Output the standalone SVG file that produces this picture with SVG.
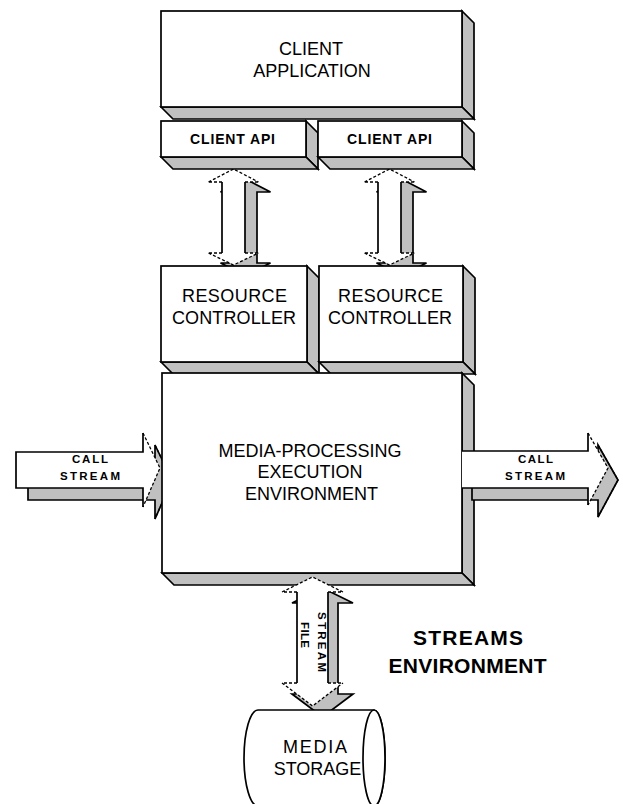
<svg xmlns="http://www.w3.org/2000/svg" width="623" height="804" viewBox="0 0 623 804">
<style>
.f{fill:#fff;stroke:#000;stroke-width:1.7}
.s{fill:#c0c0c0;stroke:#000;stroke-width:1.7;stroke-linejoin:miter}
.w{fill:#fff;stroke:none}
.ln{fill:none;stroke:#000;stroke-width:1.7}
.d{fill:none;stroke:#000;stroke-width:1.3;stroke-dasharray:3 2}
.t{font-family:"Liberation Sans",Arial,sans-serif;fill:#000;text-anchor:middle}
.m{font-size:18px}
.b{font-size:14px;font-weight:bold}
.sm{font-size:11.5px;font-weight:bold}
.big{font-size:21px;font-weight:bold}
</style>
<rect width="623" height="804" fill="#fff"/>
<g id="connectors">
  <g id="arrow-api-rc-left">
    <polygon class="s" points="245.5,179 270.5,192 257,192 257,263 270.5,263 245.5,275 220.5,263 234,263 234,192 220.5,192"/>
    <polygon class="w" points="233.5,169 258.5,182 245,182 245,253 258.5,253 233.5,265 208.5,253 222,253 222,182 208.5,182"/>
    <path class="ln" d="M222,182 V253 M245,182 V253"/>
    <path class="d" d="M208.5,182 L233.5,169 L258.5,182 M222,182 H208.5 M245,182 H258.5 M208.5,253 L233.5,265 L258.5,253 M222,253 H208.5 M245,253 H258.5"/>
  </g>
  <g id="arrow-api-rc-right">
    <polygon class="s" points="401.5,179 426.5,192 413,192 413,263 426.5,263 401.5,275 376.5,263 390,263 390,192 376.5,192"/>
    <polygon class="w" points="389.5,169 414.5,182 401,182 401,253 414.5,253 389.5,265 364.5,253 378,253 378,182 364.5,182"/>
    <path class="ln" d="M378,182 V253 M401,182 V253"/>
    <path class="d" d="M364.5,182 L389.5,169 L414.5,182 M378,182 H364.5 M401,182 H414.5 M364.5,253 L389.5,265 L414.5,253 M378,253 H364.5 M401,253 H414.5"/>
  </g>
  <g id="arrow-call-in">
    <polygon class="s" points="28,464 155,464 155,445 172,480 155,519 155,500 28,500"/>
    <path class="d" d="M155,445 L172,480 L155,519"/>
    <polygon class="w" points="16,452 143,452 143,433 160,468 143,507 143,488 16,488"/>
    <path class="ln" d="M143,433 V452 H16 V488 H143 V507"/>
    <path class="d" d="M143,433 L160,468 L143,507"/>
  </g>
</g>
<g id="client-application">
  <polygon class="s" points="462,11 474,23 474,119 462,107"/>
  <polygon class="s" points="161,107 173,119 474,119 462,107"/>
  <rect class="f" x="161" y="11" width="301" height="96"/>
  <text class="t m" x="311" y="55">CLIENT</text>
  <text class="t m" x="312" y="77">APPLICATION</text>
</g>
<g id="client-api-left">
  <polygon class="s" points="306,121 318,133 318,169 306,157"/>
  <polygon class="s" points="161,157 173,169 318,169 306,157"/>
  <rect class="f" x="161" y="121" width="145" height="36"/>
  <text class="t b" x="232.5" y="144" textLength="85" lengthAdjust="spacing">CLIENT API</text>
</g>
<g id="client-api-right">
  <polygon class="s" points="462,121 474,133 474,169 462,157"/>
  <polygon class="s" points="318,157 330,169 474,169 462,157"/>
  <rect class="f" x="318" y="121" width="144" height="36"/>
  <text class="t b" x="389.5" y="144" textLength="85" lengthAdjust="spacing">CLIENT API</text>
</g>
<g id="resource-controller-left">
  <polygon class="s" points="307,266 319,278 319,374 307,362"/>
  <polygon class="s" points="161,362 173,374 319,374 307,362"/>
  <rect class="f" x="161" y="266" width="146" height="96"/>
  <text class="t m" x="234.5" y="302" textLength="105" lengthAdjust="spacing">RESOURCE</text>
  <text class="t m" x="234" y="324" textLength="124" lengthAdjust="spacing">CONTROLLER</text>
</g>
<g id="resource-controller-right">
  <polygon class="s" points="463,266 475,278 475,374 463,362"/>
  <polygon class="s" points="319,362 331,374 475,374 463,362"/>
  <rect class="f" x="319" y="266" width="144" height="96"/>
  <text class="t m" x="390.5" y="302" textLength="105" lengthAdjust="spacing">RESOURCE</text>
  <text class="t m" x="390" y="324" textLength="124" lengthAdjust="spacing">CONTROLLER</text>
</g>
<g id="media-processing">
  <polygon class="s" points="462,373 474,385 474,585 462,573"/>
  <polygon class="s" points="162,573 174,585 474,585 462,573"/>
  <rect class="f" x="162" y="373" width="300" height="200"/>
  <text class="t m" x="310" y="457">MEDIA-PROCESSING</text>
  <text class="t m" x="310" y="478">EXECUTION</text>
  <text class="t m" x="311.5" y="500">ENVIRONMENT</text>
</g>
<g id="connectors-2">
  <g id="arrow-call-out">
    <polygon class="s" points="472,463 598,463 598,445 618,480 598,517 598,500 472,500"/>
    <path class="d" d="M598,445 L618,480 L598,517"/>
    <polygon class="w" points="462,451 588,451 588,433 608,468 588,505 588,488 462,488"/>
    <path class="ln" d="M588,433 V451 H462 M462,488 H588 V505"/>
    <path class="d" d="M588,433 L608,468 L588,505"/>
  </g>
  <g id="arrow-file-stream">
    <polygon class="s" points="322.5,588 353,603 338,603 338,694 353,694 322.5,717 292,694 307,694 307,603 292,603"/>
    <polygon class="w" points="312.5,577 343,592 328,592 328,683 343,683 312.5,706 282,683 297,683 297,592 282,592"/>
    <path class="ln" d="M297,592 V683 M328,592 V683"/>
    <path class="d" d="M282,592 L312.5,577 L343,592 M297,592 H282 M328,592 H343 M282,683 L312.5,706 L343,683 M297,683 H282 M328,683 H343"/>
  </g>
</g>
<g id="media-storage">
  <path class="f" d="M258,710 L374,710 A11,48 0 0 1 374,806 L258,806 A14,48 0 0 1 258,710 Z"/>
  <ellipse class="f" cx="374" cy="758" rx="11" ry="48"/>
  <text class="t m" x="315" y="753" textLength="64" lengthAdjust="spacing">MEDIA</text>
  <text class="t m" x="317.5" y="775">STORAGE</text>
</g>
<g id="labels">
  <text class="t sm" x="90" y="463" textLength="36" lengthAdjust="spacing">CALL</text>
  <text class="t sm" x="90" y="480" textLength="60" lengthAdjust="spacing">STREAM</text>
  <text class="t sm" x="535.5" y="463" textLength="35" lengthAdjust="spacing">CALL</text>
  <text class="t sm" x="535" y="480" textLength="60" lengthAdjust="spacing">STREAM</text>
  <text class="t sm" transform="translate(301,635) rotate(90)" textLength="26" lengthAdjust="spacing">FILE</text>
  <text class="t sm" transform="translate(318,642) rotate(90)" textLength="60" lengthAdjust="spacing">STREAM</text>
  <text class="t big" x="468" y="645" textLength="110" lengthAdjust="spacing">STREAMS</text>
  <text class="t big" x="467.5" y="673" textLength="158" lengthAdjust="spacing">ENVIRONMENT</text>
</g>
</svg>
